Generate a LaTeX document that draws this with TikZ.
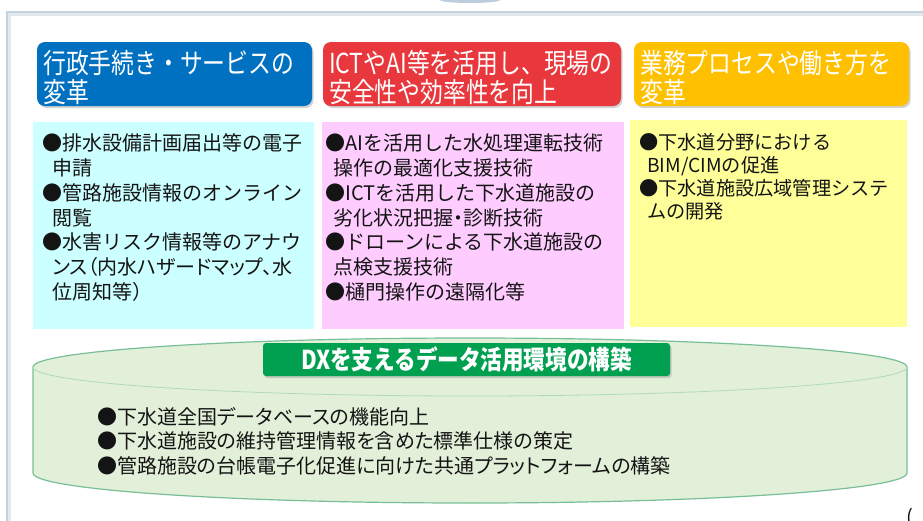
\documentclass[tikz,border=0pt]{standalone}
\usepackage{fontspec}
\setmainfont{Noto Sans CJK JP}
\newfontfamily\jpc[FakeStretch=0.83]{Noto Sans CJK JP}
\newfontfamily\jpp[RawFeature=+palt]{Noto Sans CJK JP}
\usetikzlibrary{shadows}
\definecolor{hblue}{RGB}{0,112,192}
\definecolor{hred}{RGB}{232,56,61}
\definecolor{horange}{RGB}{255,192,0}
\definecolor{bcyan}{RGB}{204,255,255}
\definecolor{bpink}{RGB}{255,204,255}
\definecolor{byellow}{RGB}{255,255,153}
\definecolor{cylfill}{RGB}{226,240,217}
\definecolor{cyledge}{RGB}{120,190,150}
\definecolor{lgreen}{RGB}{0,160,80}
\definecolor{framec}{RGB}{196,210,222}
\definecolor{txt}{RGB}{20,20,20}
\tikzset{
  x=1pt,y=-1pt,
  hdr/.style={rounded corners=8pt, draw=none,
    drop shadow={shadow xshift=1.5pt, shadow yshift=-2pt, opacity=0.35}},
  hdrtxt/.style={anchor=base west, inner sep=0pt, text=white,
    font=\jpc\fontsize{27.5}{29}\selectfont},
  bodybox/.style={draw=none},
  bodytxt/.style={anchor=base west, inner sep=0pt, text=txt,
    font=\fontsize{20}{24}\selectfont},
  ytxt/.style={anchor=base west, inner sep=0pt, text=txt,
    font=\fontsize{19.2}{23}\selectfont},
  cyltxt/.style={anchor=base west, inner sep=0pt, text=txt,
    font=\jpp\fontsize{20}{24}\selectfont},
}
\begin{document}
\begin{tikzpicture}
\useasboundingbox (0,0) rectangle (923,520);
\fill[white] (0,0) rectangle (923,520);
% top decoration and frame
\fill[color={rgb,255:red,190;green,205;blue,222}] (440,0) arc[start angle=180, end angle=360, x radius=30pt, y radius=3pt] -- cycle;
\draw[framec!50, line width=3pt] (9,522) -- (9,14) -- (925,14);
\draw[framec, line width=1.4pt] (7,522) -- (7,12) -- (925,12);
% headers
\fill[hdr, fill=hblue] (37,42) rectangle (312,106);
\fill[hdr, fill=hred] (323,42) rectangle (621,106);
\fill[hdr, fill=horange] (634,42) rectangle (909,106);
\node[hdrtxt] (h1a) at (43,73) {行政手続き・サービスの};
\node[hdrtxt] (h1b) at (43,102) {変革};
\node[hdrtxt] (h2a) at (329,73) {ICTやAI等を活用し、現場の};
\node[hdrtxt] (h2b) at (329,102) {安全性や効率性を向上};
\node[hdrtxt] (h3a) at (640,73) {業務プロセスや働き方を};
\node[hdrtxt] (h3b) at (640,102) {変革};
% body boxes
\fill[bodybox, fill=bcyan] (33,122) rectangle (314,329);
\fill[bodybox, fill=bpink] (322,122) rectangle (624,329);
\fill[bodybox, fill=byellow] (630,120) rectangle (907,327);
\foreach \t [count=\i] in {●排水設備計画届出等の電子,\hspace{10pt}申請,●管路施設情報のオンライン,\hspace{10pt}閲覧,●水害リスク情報等のアナウ,\hspace{10pt}{\jpp ンス（内水ハザードマップ、水},\hspace{10pt}位周知等）}
  \node[bodytxt] (c\i) at (42,{150.6+24.8*(\i-1)}) {\t};
\foreach \t [count=\i] in {●AIを活用した水処理運転技術,\hspace{8pt}操作の最適化支援技術,●ICTを活用した下水道施設の,\hspace{8pt}劣化状況把握{\jpp ・}診断技術,●ドローンによる下水道施設の,\hspace{8pt}点検支援技術,●樋門操作の遠隔化等}
  \node[bodytxt] (p\i) at (325,{150.6+24.8*(\i-1)}) {\t};
\foreach \t [count=\i] in {●下水道分野における,\hspace{8pt}BIM/CIMの促進,●下水道施設広域管理システ,\hspace{8pt}ムの開発}
  \node[ytxt] (y\i) at (639,{149+23.3*(\i-1)}) {\t};
% cylinder
\coordinate (cyl) at (470,420);
\fill[cylfill] (33,367) -- (33,473) arc[start angle=180, end angle=360, x radius=437pt, y radius=30pt] -- (907,367) arc[start angle=0, end angle=180, x radius=437pt, y radius=29pt] -- cycle;
\draw[cyledge, line width=1.2pt] (33,367) -- (33,473) arc[start angle=180, end angle=360, x radius=437pt, y radius=30pt] -- (907,367) arc[start angle=0, end angle=180, x radius=437pt, y radius=29pt];
\draw[cyledge!60, line width=0.8pt] (33,367) arc[start angle=180, end angle=360, x radius=437pt, y radius=29pt];
% green label
\node[fill=lgreen, rounded corners=3pt, minimum width=407pt, minimum height=33pt, inner sep=0pt,
  drop shadow={shadow xshift=1.5pt, shadow yshift=-2pt, opacity=0.35},
  text=white, font=\jpc\bfseries\fontsize{26}{28}\selectfont] (lab) at (466.5,359.5) {DXを支えるデータ活用環境の構築};
\foreach \t [count=\i] in {●下水道全国データベースの機能向上,●下水道施設の維持管理情報を含めた標準仕様の策定,●管路施設の台帳電子化促進に向けた共通プラットフォームの構築}
  \node[cyltxt] (d\i) at (97,{424.6+24.3*(\i-1)}) {\t};
\node[anchor=base west, inner sep=0pt, text=txt, font=\fontsize{20}{24}\selectfont] (paren) at (906,524) {(};
\end{tikzpicture}
\end{document}
